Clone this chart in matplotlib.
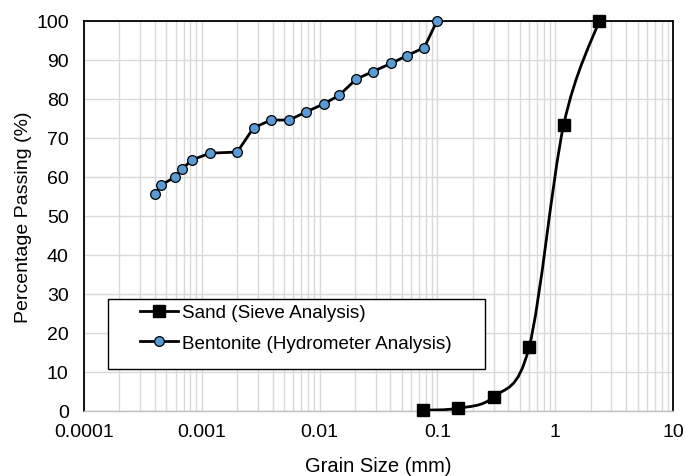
import numpy as np
import matplotlib
matplotlib.use("Agg")
import matplotlib.pyplot as plt
from matplotlib.path import Path
from matplotlib.patches import PathPatch, Rectangle
from matplotlib.lines import Line2D
from matplotlib.ticker import LogLocator, FuncFormatter, MultipleLocator

plt.rcParams["font.family"] = ["Liberation Sans", "DejaVu Sans"]

# Sand (sieve analysis)
sand_size = [0.075, 0.15, 0.3, 0.6, 1.18, 2.36]
sand_pass = [0.2, 0.7, 3.6, 16.3, 73.3, 100.0]

# Bentonite (hydrometer analysis)
bent_size = [0.000403, 0.000453, 0.000589, 0.000679, 0.000826, 0.00118,
             0.0020, 0.00275, 0.00386, 0.00553, 0.0077, 0.0108, 0.0146,
             0.0205, 0.0282, 0.0402, 0.0552, 0.0774, 0.0993]
bent_pass = [55.7, 58.0, 59.9, 62.0, 64.4, 66.1, 66.4, 72.6, 74.6, 74.6,
             76.7, 78.7, 80.9, 85.1, 87.0, 89.1, 91.1, 93.2, 100.0]

BLUE = "#5b9bd5"
GRID = "#d9d9d9"


def smooth_path(xs, ys):
    # Catmull-Rom style Bezier through the points, built in log-x space
    lx = np.log10(xs)
    y = np.asarray(ys, float)
    n = len(lx)
    verts = [(xs[0], y[0])]
    codes = [Path.MOVETO]
    for i in range(n - 1):
        i0, i3 = max(i - 1, 0), min(i + 2, n - 1)
        c1 = (lx[i] + (lx[i + 1] - lx[i0]) / 6, y[i] + (y[i + 1] - y[i0]) / 6)
        c2 = (lx[i + 1] - (lx[i3] - lx[i]) / 6, y[i + 1] - (y[i3] - y[i]) / 6)
        verts += [(10 ** c1[0], c1[1]), (10 ** c2[0], c2[1]), (xs[i + 1], y[i + 1])]
        codes += [Path.CURVE4] * 3
    return Path(verts, codes)


fig = plt.figure(figsize=(6.86, 4.77), dpi=100)
ax = fig.add_axes([0.1224, 0.1363, 0.8586, 0.8176])
ax.set_xscale("log")
ax.set_xlim(0.0001, 10)
ax.set_ylim(0, 100)

ax.xaxis.set_major_locator(LogLocator(base=10, numticks=10))
ax.xaxis.set_minor_locator(LogLocator(base=10, subs=np.arange(2, 10), numticks=100))
ax.xaxis.set_major_formatter(FuncFormatter(lambda v, p: f"{v:g}"))
ax.xaxis.set_minor_formatter(FuncFormatter(lambda v, p: ""))
ax.yaxis.set_major_locator(MultipleLocator(10))
ax.grid(True, which="both", axis="x", color=GRID, lw=1.0)
ax.grid(True, which="major", axis="y", color=GRID, lw=1.0)
ax.set_axisbelow(True)
ax.tick_params(which="both", length=0, labelsize=14)
ax.tick_params(axis="y", pad=11)
ax.tick_params(axis="x", pad=9)

for s in ["left", "top", "right"]:
    ax.spines[s].set_color("black")
    ax.spines[s].set_linewidth(1.3)
ax.spines["bottom"].set_color("#bfbfbf")
ax.spines["bottom"].set_linewidth(1.0)

# sand: smoothed line + square markers
ax.add_patch(PathPatch(smooth_path(sand_size, sand_pass), fc="none", ec="black", lw=2.0, zorder=3))
ax.plot(sand_size, sand_pass, ls="none", marker="s", ms=8, color="black", zorder=4, clip_on=False)

# bentonite: straight line + circle markers
ax.plot(bent_size, bent_pass, "-", color="black", lw=2.0, zorder=3)
ax.plot(bent_size, bent_pass, ls="none", marker="o", ms=7, mfc=BLUE, mec="black",
        mew=0.9, zorder=4, clip_on=False)

ax.set_xlabel("Grain Size (mm)", fontsize=14.5)
ax.set_ylabel("Percentage Passing (%)", fontsize=14)
ax.xaxis.set_label_coords(0.5, -0.115)
ax.yaxis.set_label_coords(-0.088, 0.5)

# legend box
ax.add_patch(Rectangle((0.041, 0.108), 0.64, 0.179, transform=ax.transAxes,
                       fc="white", ec="black", lw=1.0, zorder=5))
handles = [
    Line2D([], [], color="black", lw=2.0, marker="s", ms=8),
    Line2D([], [], color="black", lw=2.0, marker="o", ms=7, mfc=BLUE, mec="black", mew=0.9),
]
leg = ax.legend(handles, ["Sand (Sieve Analysis)", "Bentonite (Hydrometer Analysis)"],
                loc="upper left", bbox_to_anchor=(0.095, 0.274), frameon=False,
                fontsize=13.6, handlelength=2.0, handletextpad=0.25, labelspacing=0.7,
                borderpad=0, borderaxespad=0)
leg.set_zorder(6)

fig.savefig("out.png", dpi=100)
